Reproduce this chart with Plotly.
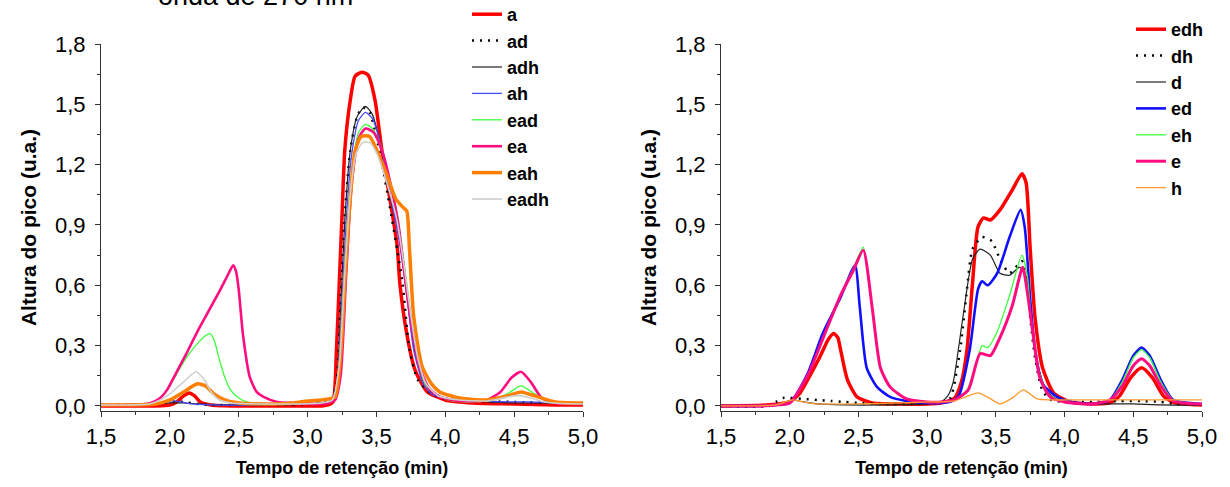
import plotly.graph_objects as go

# ---------------- Left panel data ----------------
a_x = [1.5, 1.9, 2.0, 2.05, 2.1, 2.14, 2.18, 2.22, 2.3, 2.5, 2.8, 3.0, 3.1, 3.15, 3.185, 3.21, 3.23, 3.25, 3.27, 3.31, 3.345, 3.395, 3.44, 3.49, 3.54, 3.60, 3.65, 3.67, 3.72, 3.78, 3.87, 4.0, 4.2, 4.5, 4.8, 5.0]
a_y = [0.0, 0.0, 0.005, 0.02, 0.05, 0.065, 0.05, 0.02, 0.005, 0.0, 0.0, 0.0, 0.0, 0.005, 0.02, 0.28, 0.61, 0.94, 1.27, 1.52, 1.64, 1.66, 1.645, 1.52, 1.27, 1.02, 0.80, 0.61, 0.36, 0.18, 0.07, 0.03, 0.015, 0.01, 0.005, 0.005]

ad_x = [1.5, 1.9, 2.0, 2.1, 2.2, 2.3, 2.5, 2.8, 3.0, 3.1, 3.17, 3.21, 3.236, 3.27, 3.31, 3.36, 3.40, 3.45, 3.53, 3.6, 3.65, 3.69, 3.74, 3.8, 3.9, 4.0, 4.2, 4.5, 4.8, 5.0]
ad_y = [0.005, 0.01, 0.02, 0.02, 0.01, 0.005, 0.005, 0.005, 0.01, 0.015, 0.03, 0.11, 0.44, 0.94, 1.27, 1.44, 1.485, 1.46, 1.24, 0.98, 0.78, 0.61, 0.28, 0.13, 0.06, 0.035, 0.025, 0.02, 0.015, 0.01]

adh_x = [1.5, 1.9, 2.0, 2.1, 2.2, 2.4, 2.8, 3.0, 3.1, 3.17, 3.21, 3.236, 3.27, 3.31, 3.36, 3.42, 3.47, 3.53, 3.58, 3.62, 3.66, 3.70, 3.74, 3.78, 3.84, 3.9, 4.0, 4.2, 4.5, 4.8, 5.0]
adh_y = [0.005, 0.008, 0.015, 0.015, 0.01, 0.005, 0.005, 0.01, 0.015, 0.03, 0.10, 0.42, 0.92, 1.27, 1.44, 1.49, 1.45, 1.30, 1.12, 0.98, 0.88, 0.70, 0.45, 0.26, 0.12, 0.07, 0.04, 0.025, 0.015, 0.015, 0.01]

ah_x = [1.5, 1.9, 1.97, 2.02, 2.08, 2.15, 2.3, 2.6, 2.9, 3.1, 3.17, 3.21, 3.24, 3.28, 3.32, 3.37, 3.42, 3.47, 3.53, 3.58, 3.63, 3.67, 3.71, 3.77, 3.84, 3.9, 4.0, 4.2, 4.5, 4.55, 4.6, 4.8, 5.0]
ah_y = [0.005, 0.01, 0.02, 0.025, 0.02, 0.01, 0.005, 0.005, 0.01, 0.015, 0.025, 0.08, 0.40, 0.92, 1.25, 1.42, 1.46, 1.43, 1.30, 1.12, 0.95, 0.80, 0.61, 0.28, 0.11, 0.06, 0.035, 0.025, 0.02, 0.02, 0.02, 0.015, 0.01]

ead_x = [1.5, 1.8, 1.86, 1.93, 1.98, 2.05, 2.12, 2.2, 2.26, 2.29, 2.32, 2.36, 2.40, 2.44, 2.5, 2.56, 2.7, 2.9, 3.1, 3.18, 3.22, 3.25, 3.29, 3.33, 3.37, 3.42, 3.47, 3.53, 3.6, 3.66, 3.72, 3.76, 3.8, 3.86, 3.95, 4.05, 4.2, 4.35, 4.45, 4.55, 4.65, 4.75, 5.0]
ead_y = [0.005, 0.008, 0.015, 0.04, 0.08, 0.16, 0.24, 0.31, 0.35, 0.36, 0.33, 0.23, 0.14, 0.08, 0.04, 0.02, 0.01, 0.01, 0.015, 0.03, 0.12, 0.45, 0.92, 1.22, 1.36, 1.40, 1.38, 1.30, 1.12, 0.92, 0.61, 0.40, 0.22, 0.10, 0.05, 0.025, 0.02, 0.03, 0.06, 0.10, 0.06, 0.02, 0.01]

ea_x = [1.5, 1.8, 1.86, 1.93, 1.98, 2.05, 2.12, 2.2, 2.28, 2.36, 2.42, 2.46, 2.48, 2.5, 2.53, 2.58, 2.63, 2.68, 2.78, 2.9, 3.05, 3.15, 3.2, 3.24, 3.28, 3.32, 3.37, 3.42, 3.48, 3.55, 3.61, 3.66, 3.71, 3.76, 3.81, 3.88, 3.96, 4.1, 4.3, 4.4, 4.48, 4.55, 4.62, 4.7, 4.8, 5.0]
ea_y = [0.005, 0.008, 0.015, 0.04, 0.08, 0.17, 0.26, 0.37, 0.47, 0.57, 0.65, 0.70, 0.67, 0.58, 0.36, 0.145, 0.07, 0.045, 0.02, 0.015, 0.01, 0.015, 0.03, 0.15, 0.65, 1.1, 1.33, 1.38, 1.36, 1.25, 1.08, 0.9, 0.62, 0.38, 0.2, 0.09, 0.045, 0.025, 0.03, 0.07, 0.14, 0.17, 0.12, 0.04, 0.015, 0.01]

eah_x = [1.5, 1.9, 2.0, 2.1, 2.2, 2.26, 2.32, 2.4, 2.5, 2.7, 2.9, 3.0, 3.1, 3.15, 3.2, 3.24, 3.27, 3.30, 3.345, 3.39, 3.45, 3.51, 3.58, 3.64, 3.69, 3.72, 3.74, 3.77, 3.83, 3.9, 3.96, 4.1, 4.3, 4.45, 4.55, 4.65, 4.8, 5.0]
eah_y = [0.005, 0.01, 0.03, 0.07, 0.11, 0.10, 0.06, 0.03, 0.015, 0.01, 0.015, 0.025, 0.03, 0.035, 0.045, 0.25, 0.61, 0.94, 1.27, 1.34, 1.34, 1.26, 1.14, 1.03, 0.99, 0.97, 0.78, 0.45, 0.20, 0.11, 0.07, 0.04, 0.03, 0.05, 0.07, 0.05, 0.02, 0.015]

eadh_x = [1.5, 1.85, 1.93, 2.0, 2.1, 2.19, 2.25, 2.3, 2.36, 2.45, 2.7, 2.9, 3.1, 3.18, 3.23, 3.27, 3.31, 3.35, 3.4, 3.45, 3.5, 3.58, 3.65, 3.70, 3.75, 3.8, 3.86, 3.95, 4.1, 4.3, 4.42, 4.5, 4.55, 4.62, 4.72, 4.85, 5.0]
eadh_y = [0.005, 0.01, 0.03, 0.06, 0.12, 0.17, 0.13, 0.07, 0.03, 0.015, 0.01, 0.01, 0.015, 0.03, 0.2, 0.65, 1.05, 1.25, 1.31, 1.31, 1.26, 1.1, 0.92, 0.7, 0.45, 0.24, 0.11, 0.05, 0.03, 0.025, 0.04, 0.05, 0.05, 0.04, 0.02, 0.012, 0.01]

# ---------------- Right panel data ----------------
edh_x = [1.5, 1.8, 1.9, 2.0, 2.07, 2.13, 2.22, 2.28, 2.32, 2.35, 2.37, 2.42, 2.49, 2.6, 2.8, 3.0, 3.1, 3.2, 3.25, 3.29, 3.33, 3.37, 3.41, 3.46, 3.53, 3.62, 3.69, 3.72, 3.75, 3.785, 3.84, 3.92, 4.04, 4.2, 4.33, 4.4, 4.48, 4.56, 4.64, 4.72, 4.8, 5.0]
edh_y = [0.0, 0.003, 0.008, 0.02, 0.06, 0.13, 0.245, 0.33, 0.36, 0.34, 0.28, 0.13, 0.045, 0.015, 0.01, 0.01, 0.015, 0.04, 0.12, 0.28, 0.61, 0.89, 0.935, 0.925, 0.975, 1.075, 1.155, 1.11, 0.78, 0.44, 0.19, 0.065, 0.02, 0.01, 0.015, 0.05, 0.14, 0.19, 0.14, 0.05, 0.015, 0.005]

dh_x = [1.5, 1.85, 1.9, 1.95, 2.0, 2.1, 2.2, 2.3, 2.4, 2.5, 2.7, 2.9, 3.05, 3.12, 3.17, 3.24, 3.29, 3.33, 3.40, 3.47, 3.53, 3.60, 3.69, 3.73, 3.75, 3.785, 3.84, 3.9, 4.0, 4.2, 4.4, 4.55, 4.7, 4.8, 5.0]
dh_y = [0.0, 0.0, 0.02, 0.04, 0.04, 0.035, 0.03, 0.025, 0.02, 0.015, 0.01, 0.01, 0.015, 0.02, 0.04, 0.28, 0.58, 0.78, 0.84, 0.82, 0.73, 0.66, 0.72, 0.61, 0.44, 0.24, 0.075, 0.03, 0.02, 0.02, 0.025, 0.025, 0.02, 0.01, 0.005]

d_x = [1.5, 1.9, 1.97, 2.02, 2.1, 2.2, 2.4, 2.7, 3.0, 3.1, 3.15, 3.19, 3.26, 3.33, 3.385, 3.46, 3.53, 3.60, 3.675, 3.73, 3.76, 3.81, 3.87, 3.95, 4.1, 4.3, 4.5, 4.7, 5.0]
d_y = [0.0, 0.005, 0.02, 0.03, 0.02, 0.01, 0.005, 0.005, 0.01, 0.02, 0.05, 0.12, 0.44, 0.73, 0.78, 0.75, 0.66, 0.65, 0.69, 0.62, 0.40, 0.19, 0.075, 0.03, 0.01, 0.01, 0.01, 0.005, 0.005]

ed_x = [1.5, 1.8, 1.9, 2.0, 2.13, 2.24, 2.37, 2.475, 2.51, 2.56, 2.635, 2.73, 2.85, 3.0, 3.1, 3.18, 3.23, 3.31, 3.37, 3.40, 3.44, 3.51, 3.60, 3.68, 3.71, 3.75, 3.785, 3.84, 3.945, 4.05, 4.2, 4.33, 4.42, 4.5, 4.56, 4.62, 4.7, 4.79, 5.0]
ed_y = [0.0, 0.0, 0.005, 0.015, 0.16, 0.36, 0.54, 0.70, 0.49, 0.19, 0.095, 0.045, 0.025, 0.015, 0.015, 0.025, 0.05, 0.28, 0.58, 0.62, 0.60, 0.66, 0.84, 0.975, 0.89, 0.53, 0.28, 0.11, 0.045, 0.02, 0.01, 0.03, 0.13, 0.25, 0.29, 0.25, 0.13, 0.03, 0.01]

eh_x = [1.5, 1.8, 1.9, 2.0, 2.13, 2.25, 2.37, 2.46, 2.535, 2.6, 2.66, 2.73, 2.85, 3.0, 3.1, 3.2, 3.29, 3.36, 3.40, 3.44, 3.51, 3.60, 3.69, 3.73, 3.76, 3.81, 3.88, 4.0, 4.2, 4.33, 4.42, 4.5, 4.56, 4.62, 4.7, 4.79, 5.0]
eh_y = [0.0, 0.0, 0.005, 0.015, 0.15, 0.35, 0.55, 0.68, 0.79, 0.49, 0.19, 0.095, 0.035, 0.02, 0.02, 0.03, 0.08, 0.22, 0.30, 0.29, 0.37, 0.55, 0.75, 0.64, 0.40, 0.18, 0.06, 0.02, 0.01, 0.03, 0.12, 0.24, 0.28, 0.24, 0.12, 0.03, 0.01]

e_x = [1.5, 1.8, 1.9, 2.0, 2.13, 2.25, 2.37, 2.46, 2.535, 2.6, 2.66, 2.73, 2.85, 3.0, 3.1, 3.2, 3.3, 3.385, 3.46, 3.53, 3.62, 3.695, 3.73, 3.77, 3.82, 3.895, 4.0, 4.2, 4.33, 4.42, 4.5, 4.56, 4.62, 4.7, 4.79, 5.0]
e_y = [0.0, 0.0, 0.005, 0.015, 0.15, 0.35, 0.55, 0.67, 0.775, 0.49, 0.19, 0.095, 0.035, 0.02, 0.02, 0.03, 0.08, 0.26, 0.25, 0.34, 0.50, 0.69, 0.56, 0.36, 0.14, 0.045, 0.02, 0.01, 0.03, 0.10, 0.20, 0.235, 0.20, 0.10, 0.025, 0.01]

h_x = [1.5, 1.9, 1.97, 2.02, 2.1, 2.2, 2.5, 2.8, 3.0, 3.1, 3.2, 3.28, 3.37, 3.45, 3.53, 3.62, 3.70, 3.8, 3.9, 4.1, 4.5, 5.0]
h_y = [0.0, 0.005, 0.02, 0.03, 0.02, 0.01, 0.01, 0.015, 0.02, 0.02, 0.025, 0.045, 0.065, 0.04, 0.01, 0.04, 0.08, 0.035, 0.03, 0.03, 0.03, 0.03]

x_ticks = [1.5, 2.0, 2.5, 3.0, 3.5, 4.0, 4.5, 5.0]
y_ticks = [0.0, 0.3, 0.6, 0.9, 1.2, 1.5, 1.8]

FONT = "Liberation Sans, Arial, sans-serif"
DOTS = "2px,6px"

left_series = [
    ("a", a_x, a_y, "#FF0000", 3.5, "solid"),
    ("ad", ad_x, ad_y, "#000000", 2.5, DOTS),
    ("adh", adh_x, adh_y, "#222222", 1.2, "solid"),
    ("ah", ah_x, ah_y, "#4B4BFF", 1.3, "solid"),
    ("ead", ead_x, ead_y, "#3CFF3C", 1.3, "solid"),
    ("ea", ea_x, ea_y, "#FF0D80", 2.6, "solid"),
    ("eah", eah_x, eah_y, "#FF8000", 3.5, "solid"),
    ("eadh", eadh_x, eadh_y, "#CFCFCF", 1.6, "solid"),
]
right_series = [
    ("edh", edh_x, edh_y, "#FF0000", 3.5, "solid"),
    ("dh", dh_x, dh_y, "#000000", 2.5, DOTS),
    ("d", d_x, d_y, "#222222", 1.2, "solid"),
    ("ed", ed_x, ed_y, "#1010FF", 2.6, "solid"),
    ("eh", eh_x, eh_y, "#3CFF3C", 1.3, "solid"),
    ("e", e_x, e_y, "#FF0D80", 3.0, "solid"),
    ("h", h_x, h_y, "#FF9A2E", 1.3, "solid"),
]

fig = go.Figure()
for i, (name, xs, ys, col, w, dash) in enumerate(left_series):
    fig.add_trace(go.Scatter(x=xs, y=ys, name=name, mode="lines",
                             line=dict(color=col, width=w, dash=dash, shape="spline", smoothing=0.6),
                             xaxis="x", yaxis="y", legend="legend", legendrank=i + 1))
for i, (name, xs, ys, col, w, dash) in enumerate(right_series):
    fig.add_trace(go.Scatter(x=xs, y=ys, name=name, mode="lines",
                             line=dict(color=col, width=w, dash=dash, shape="spline", smoothing=0.6),
                             xaxis="x2", yaxis="y2", legend="legend2", legendrank=i + 1))

def xaxis_cfg(domain, anchor):
    return dict(domain=domain, anchor=anchor, range=[1.5, 5.0], tickvals=x_ticks,
                automargin=False,
                tickformat=".1f", showline=True, linecolor="#333333", linewidth=1.2,
                ticks="outside", ticklen=5, tickwidth=1.2, tickcolor="#333333",
                minor=dict(ticks="outside", ticklen=3, dtick=0.25, tick0=1.5, tickcolor="#333333"),
                showgrid=False, zeroline=False,
                tickfont=dict(family=FONT, size=22, color="#000000"),
                title=dict(text="Tempo de retenção (min)", standoff=13,
                           font=dict(family=FONT, size=18, color="#000000", weight="bold")))

def yaxis_cfg(domain, anchor):
    return dict(domain=domain, anchor=anchor, range=[-0.025, 1.8], tickvals=y_ticks,
                automargin=False,
                tickformat=".1f", showline=True, linecolor="#333333", linewidth=1.2,
                ticks="outside", ticklen=5, tickwidth=1.2, tickcolor="#333333",
                ticklabelstandoff=5,
                minor=dict(ticks="outside", ticklen=3, dtick=0.15, tick0=0, tickcolor="#333333"),
                showgrid=False, zeroline=False,
                tickfont=dict(family=FONT, size=22, color="#000000"),
                title=dict(text="Altura do pico (u.a.)", standoff=12,
                           font=dict(family=FONT, size=21, color="#000000", weight="bold")))

ydom = [1 - 411 / 487, 1 - 44 / 487]
fig.update_layout(
    width=1230, height=487,
    margin=dict(l=0, r=0, t=0, b=0, autoexpand=False),
    paper_bgcolor="white", plot_bgcolor="white",
    separators=",.",
    xaxis=xaxis_cfg([101 / 1230, 583 / 1230], "y"),
    yaxis=yaxis_cfg(ydom, "x"),
    xaxis2=xaxis_cfg([721 / 1230, 1202 / 1230], "y2"),
    yaxis2=yaxis_cfg(ydom, "x2"),
    legend=dict(x=467 / 1230, y=1 + 4 / 487, xanchor="left", yanchor="top",
                bgcolor="rgba(0,0,0,0)", borderwidth=0, traceorder="normal",
                font=dict(family=FONT, size=18, color="#000000", weight="bold")),
    legend2=dict(x=1131 / 1230, y=1 - 11 / 487, xanchor="left", yanchor="top",
                 bgcolor="rgba(0,0,0,0)", borderwidth=0, traceorder="normal",
                 font=dict(family=FONT, size=18, color="#000000", weight="bold")),
    annotations=[dict(text="onda de 270 nm", xref="paper", yref="paper",
                      x=255 / 1230, y=1 - 13 / 487, xanchor="center", yanchor="bottom",
                      showarrow=False, font=dict(family=FONT, size=27, color="#000000"))],
)

fig.write_html("out.html")
